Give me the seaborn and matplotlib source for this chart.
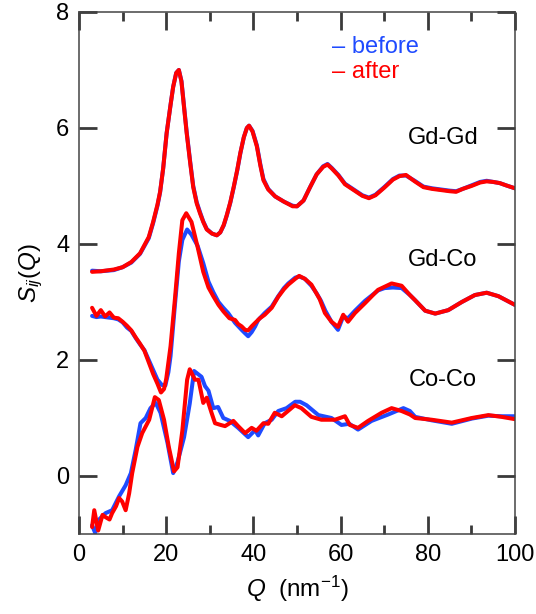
import matplotlib
matplotlib.use("Agg")
import matplotlib.pyplot as plt
import seaborn as sns
import numpy as np
import pandas as pd

# ---------------- data ----------------
gdgd_q = [3, 5, 8, 10, 12, 14, 16, 17, 18, 18.6, 19.3, 20.1, 21, 21.6, 22.3, 22.9, 23.5, 24.1,
          24.7, 25.5, 26.2, 27, 27.75, 28.5, 29.3, 30.5, 31.6, 32.4, 33.2, 33.9, 34.7, 35.5,
          36.3, 37, 37.8, 38.5, 39.0, 39.8, 40.8, 41.6, 42.3, 43.4, 45, 47, 49, 50, 51.5, 53,
          54.5, 56, 57, 58, 59.5, 61, 63, 65, 66.5, 68, 70, 72, 73.5, 75, 77, 79, 81, 83, 85,
          86.5, 88, 90, 92, 93.5, 95, 96.5, 98, 100]
gdgd_after = [3.52, 3.53, 3.56, 3.60, 3.69, 3.84, 4.12, 4.38, 4.68, 4.90, 5.30, 5.91, 6.40,
              6.71, 6.95, 7.00, 6.80, 6.35, 5.91, 5.40, 4.98, 4.70, 4.53, 4.38, 4.25, 4.18,
              4.15, 4.20, 4.33, 4.50, 4.72, 4.99, 5.28, 5.57, 5.84, 6.00, 6.04, 5.94, 5.68,
              5.35, 5.10, 4.94, 4.82, 4.73, 4.65, 4.65, 4.75, 4.98, 5.20, 5.33, 5.37, 5.30,
              5.18, 5.03, 4.93, 4.83, 4.79, 4.84, 4.97, 5.11, 5.17, 5.19, 5.08, 4.98, 4.95,
              4.93, 4.91, 4.90, 4.95, 5.00, 5.06, 5.08, 5.07, 5.05, 5.01, 4.96]
gdgd_before = [3.54, 3.53, 3.55, 3.60, 3.68, 3.83, 4.10, 4.36, 4.66, 4.89, 5.30, 5.91, 6.40,
               6.71, 6.95, 7.00, 6.81, 6.37, 5.93, 5.42, 5.00, 4.72, 4.55, 4.39, 4.26, 4.18,
               4.15, 4.20, 4.32, 4.49, 4.71, 4.98, 5.27, 5.56, 5.84, 6.00, 6.04, 5.95, 5.70,
               5.37, 5.12, 4.95, 4.82, 4.73, 4.66, 4.65, 4.75, 4.98, 5.20, 5.34, 5.38, 5.31,
               5.19, 5.04, 4.94, 4.84, 4.80, 4.85, 4.98, 5.12, 5.18, 5.18, 5.09, 4.99, 4.96,
               4.94, 4.92, 4.91, 4.95, 5.01, 5.07, 5.09, 5.07, 5.05, 5.01, 4.96]

gdco_after_q = [3, 4, 5, 6, 7, 8, 9, 10, 11, 12, 13, 14, 15, 16, 17, 18, 18.8, 19.5, 20, 21,
                22, 22.9, 23.7, 24.6, 25.8, 27.2, 28.5, 29.7, 30.8, 32, 33.1, 34.5, 35.8,
                36.5, 37.3, 38.1, 38.8, 39.6, 40.4, 41.5, 42.6, 44.2, 45.7, 47, 48, 49.6,
                50.5, 51.8, 53.3, 55.2, 56.4, 57.9, 59.4, 60.6, 61.7, 63.3, 65.6, 68.6, 71.7,
                74, 75.9, 77.1, 79.4, 81.7, 84.7, 87.8, 90.8, 93.5, 96.2, 100]
gdco_after = [2.90, 2.76, 2.86, 2.75, 2.82, 2.73, 2.72, 2.66, 2.59, 2.51, 2.39, 2.28, 2.16,
              1.96, 1.76, 1.59, 1.44, 1.50, 1.67, 2.24, 3.05, 3.84, 4.41, 4.53, 4.38, 3.95,
              3.52, 3.25, 3.10, 2.95, 2.84, 2.72, 2.69, 2.62, 2.58, 2.52, 2.51, 2.58, 2.64,
              2.72, 2.78, 2.90, 3.09, 3.22, 3.30, 3.40, 3.45, 3.40, 3.30, 3.05, 2.81, 2.66,
              2.57, 2.78, 2.66, 2.81, 2.98, 3.21, 3.32, 3.28, 3.12, 3.03, 2.85, 2.80, 2.86,
              3.00, 3.12, 3.16, 3.10, 2.95]

gdco_before_q = [3, 4, 5, 6, 7, 8, 9, 10, 11, 12, 13, 14, 15, 16, 17, 18, 19, 19.8, 20.5, 21,
                 22, 22.9, 23.7, 24.8, 25.8, 27.2, 28.5, 29.7, 30.8, 32, 33.1, 34.2, 35.8,
                 37.3, 38.1, 38.8, 39.6, 40.4, 41.1, 42.6, 44.2, 45.7, 47, 48, 49.6, 50.5,
                 51.8, 53.3, 54.5, 55.5, 56.5, 57.9, 59.4, 60.6, 61.7, 63.3, 65.6, 68.6, 70.1,
                 72, 74, 75.9, 77.1, 79.4, 81.7, 84.7, 87.8, 90.8, 93.5, 96.2, 100]
gdco_before = [2.76, 2.74, 2.75, 2.74, 2.73, 2.72, 2.70, 2.65, 2.56, 2.50, 2.38, 2.27, 2.17,
               2.00, 1.83, 1.66, 1.57, 1.56, 1.79, 2.07, 2.95, 3.70, 4.07, 4.25, 4.16, 3.97,
               3.67, 3.35, 3.17, 3.00, 2.90, 2.81, 2.64, 2.52, 2.46, 2.41, 2.48, 2.58, 2.69,
               2.81, 2.92, 3.10, 3.24, 3.32, 3.42, 3.44, 3.40, 3.28, 3.15, 3.02, 2.85, 2.66,
               2.52, 2.75, 2.72, 2.85, 3.02, 3.20, 3.24, 3.25, 3.24, 3.12, 3.03, 2.85, 2.80,
               2.86, 3.00, 3.12, 3.16, 3.10, 2.95]

coco_after_q = [3, 3.5, 4.4, 5.4, 6.1, 7, 7.6, 8.5, 9.2, 9.9, 10.7, 11.5, 12.2, 13.4, 14.5,
                16.1, 17.4, 18.3, 19.5, 20.6, 21.8, 22.6, 23.7, 24.8, 25.4, 26.6, 27.4, 28.5,
                29.3, 30.4, 31.2, 32.5, 33.5, 35.4, 36.5, 38.1, 39.6, 40.7, 42.3, 43.4, 44.9,
                46.5, 49.5, 51, 53.3, 55.6, 58.7, 61, 62.1, 64, 66.3, 69.4, 71.7, 74, 75.9,
                77.1, 80.9, 85.5, 90.1, 93.9, 96.9, 100]
coco_after = [-0.88, -0.59, -0.94, -0.67, -0.71, -0.75, -0.64, -0.52, -0.38, -0.44, -0.59,
              -0.30, 0.05, 0.50, 0.74, 0.97, 1.36, 1.31, 0.97, 0.50, 0.08, 0.15, 0.78, 1.66,
              1.84, 1.66, 1.66, 1.26, 1.35, 1.09, 0.91, 0.88, 0.86, 0.95, 0.86, 0.74, 0.83,
              0.78, 0.91, 0.90, 1.09, 1.03, 1.22, 1.17, 1.02, 0.97, 0.97, 1.03, 0.88, 0.83,
              0.95, 1.09, 1.17, 1.12, 1.06, 1.00, 0.97, 0.92, 1.00, 1.05, 1.02, 0.98]

coco_before_q = [3, 3.7, 4.6, 6.1, 7.6, 9.2, 10.7, 11.9, 13, 14.1, 15.3, 16.4, 17.6, 18.7,
                 20.3, 21.6, 22.6, 24.1, 25.4, 26.4, 28.1, 28.9, 29.7, 30.8, 31.9, 33.1, 34.6,
                 36.5, 38.8, 40.4, 41.1, 42.6, 44.2, 45.7, 47.6, 49.6, 50.7, 52.2, 54.9, 57.9,
                 60.2, 62, 64, 67.1, 70.9, 74.4, 75.9, 77.1, 80.9, 85.5, 90.1, 93.9, 96.9, 100]
coco_before = [-0.85, -0.98, -0.75, -0.64, -0.59, -0.35, -0.16, 0.05, 0.45, 0.91, 1.00, 1.17,
               1.26, 1.09, 0.57, 0.05, 0.24, 0.67, 1.25, 1.81, 1.71, 1.55, 1.47, 1.17, 1.19,
               1.00, 0.95, 0.83, 0.67, 0.79, 0.70, 0.91, 0.97, 1.12, 1.17, 1.28, 1.28, 1.22,
               1.05, 1.00, 0.88, 0.90, 0.80, 0.95, 1.06, 1.17, 1.12, 1.02, 0.96, 0.90, 0.99,
               1.04, 1.03, 1.03]

pair_labels = ["Gd-Gd", "Gd-Co", "Co-Co"]
pair_label_y = [5.83, 3.72, 1.66]
legend_labels = ["before", "after"]

x_major = [0, 20, 40, 60, 80, 100]
x_minor = [10, 30, 50, 70, 90]
y_major = [0, 2, 4, 6, 8]

plt.rcParams.update({
    "font.family": ["Liberation Sans", "DejaVu Sans"],
    "mathtext.fontset": "custom",
    "mathtext.rm": "Liberation Sans",
    "mathtext.it": "Liberation Sans:italic",
    "mathtext.bf": "Liberation Sans:bold",
})

BLUE = "#1F4BFF"
RED = "#FF0000"
TICK = "#3a3a3a"
LW = 2.9

FIG_W, FIG_H = 536, 614
AX_L, AX_R, AX_T, AX_B = 79, 515, 12, 534
fig = plt.figure(figsize=(FIG_W / 100, FIG_H / 100), dpi=100)
ax = fig.add_axes([AX_L / FIG_W, 1 - AX_B / FIG_H, (AX_R - AX_L) / FIG_W, (AX_B - AX_T) / FIG_H])

blue_curves = [(gdgd_q, gdgd_before), (gdco_before_q, gdco_before), (coco_before_q, coco_before)]
red_curves = [(gdgd_q, gdgd_after), (gdco_after_q, gdco_after), (coco_after_q, coco_after)]
for q, s in blue_curves:
    sns.lineplot(x=q, y=s, color=BLUE, lw=LW, estimator=None, ax=ax,
                 solid_joinstyle="round", solid_capstyle="round")
for q, s in red_curves:
    sns.lineplot(x=q, y=s, color=RED, lw=LW, estimator=None, ax=ax,
                 solid_joinstyle="round", solid_capstyle="round")

ax.set_xlim(0, 100)
ax.set_ylim(-1, 8)
ax.set_xticks(x_major)
ax.set_xticks(x_minor, minor=True)
ax.set_yticks(y_major)
ax.set_yticks([], minor=True)

for sp in ax.spines.values():
    sp.set_visible(True)
    sp.set_color("#444444")
    sp.set_linewidth(1.1)

ax.tick_params(axis="both", which="major", direction="in", length=13, width=2.0,
               colors=TICK, labelsize=17, pad=7,
               top=True, right=True, bottom=True, left=True)
ax.tick_params(axis="x", which="minor", direction="in", length=6.5, width=2.0,
               colors=TICK, top=True, bottom=True)
ax.tick_params(axis="both", which="both", labelcolor="black")

ax.set_xlabel(r"$Q$  (nm$^{-1}$)", fontsize=17.5, labelpad=6)
ax.set_ylabel(r"$S_{ij}$($Q$)", fontsize=17.5, labelpad=8)

for lab, yy in zip(pair_labels, pair_label_y):
    ax.text(83.5, yy, lab, fontsize=17, ha="center", va="center", color="black")

ax.text(58, 7.4, "\u2013 " + legend_labels[0], color=BLUE, fontsize=17, ha="left", va="center")
ax.text(58, 6.97, "\u2013 " + legend_labels[1], color=RED, fontsize=17, ha="left", va="center")

fig.savefig("out.png", dpi=100)
